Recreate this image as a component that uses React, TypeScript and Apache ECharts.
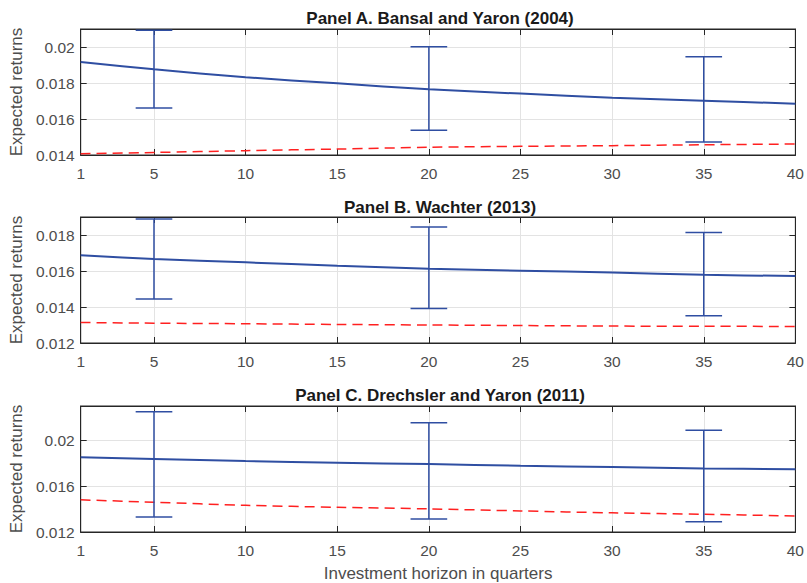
import React, { useEffect, useRef } from "react";
import * as echarts from "echarts";

const horizons = [1, 5, 10, 15, 20, 25, 30, 35, 40];
const xTicks = [1, 5, 10, 15, 20, 25, 30, 35, 40];
const errX = [5, 20, 35];

const titles = [
  "Panel A. Bansal and Yaron (2004)",
  "Panel B. Wachter (2013)",
  "Panel C. Drechsler and Yaron (2011)",
];

// Panel A
const blueA = [0.01917, 0.01876, 0.01832, 0.01798, 0.01765, 0.01741, 0.01718, 0.01702, 0.01685];
const redA = [0.01407, 0.01414, 0.01424, 0.01433, 0.01443, 0.01448, 0.01452, 0.01457, 0.01461];
const lowA = [0.01661, 0.01537, 0.01472];
const highA = [0.02093, 0.02002, 0.01946];
const yTicksA = [0.014, 0.016, 0.018, 0.02];

// Panel B
const blueB = [0.01687, 0.01667, 0.01648, 0.01629, 0.01613, 0.01602, 0.01591, 0.01579, 0.01572];
const redB = [0.01314, 0.0131, 0.01307, 0.01303, 0.013, 0.01297, 0.01294, 0.01293, 0.01292];
const lowB = [0.01444, 0.01392, 0.01352];
const highB = [0.01889, 0.01844, 0.01814];
const yTicksB = [0.012, 0.014, 0.016, 0.018];

// Panel C
const blueC = [0.01852, 0.01837, 0.01819, 0.01805, 0.01793, 0.01779, 0.01767, 0.01755, 0.01747];
const redC = [0.01481, 0.0146, 0.01433, 0.01416, 0.01402, 0.01384, 0.01367, 0.01355, 0.0134];
const lowC = [0.01332, 0.01314, 0.0129];
const highC = [0.02249, 0.02153, 0.02089];
const yTicksC = [0.012, 0.016, 0.02];

const yRanges = [
  [0.014, 0.021, 0.002],
  [0.012, 0.019, 0.002],
  [0.012, 0.023, 0.004],
];

const panels = [
  { blue: blueA, red: redA, low: lowA, high: highA, yTicks: yTicksA },
  { blue: blueB, red: redB, low: lowB, high: highB, yTicks: yTicksB },
  { blue: blueC, red: redC, low: lowC, high: highC, yTicks: yTicksC },
];

const gridTops = [29, 217, 406];
const gridHeight = 126;
const titleTops = [5, 194, 382];

const BLUE = "#2f4ea2";
const RED = "#ff2020";
const AXIS = "#262626";
const LABEL = "#4d4d4d";
const FONT = "Liberation Sans, Arial, Helvetica, sans-serif";

export default function App() {
  const ref = useRef<HTMLDivElement>(null);

  useEffect(() => {
    if (!ref.current) return;
    const chart = echarts.init(ref.current, null, { renderer: "svg" });

    const grid: any[] = [];
    const xAxis: any[] = [];
    const yAxis: any[] = [];
    const series: any[] = [];
    const title: any[] = [];

    panels.forEach((p, i) => {
      grid.push({
        left: 75,
        right: 11,
        top: gridTops[i],
        height: gridHeight,
        show: true,
        borderColor: AXIS,
        borderWidth: 1,
        backgroundColor: "#fff",
      });
      title.push({
        text: titles[i],
        left: 435,
        textAlign: "center",
        top: titleTops[i],
        textStyle: { fontFamily: FONT, fontSize: 17, fontWeight: "bold", color: "#1a1a1a" },
      });
      const [ymin, ymax, yint] = yRanges[i];
      // bottom x axis
      xAxis.push({
        type: "value",
        gridIndex: i,
        min: 1,
        max: 40,
        position: "bottom",
        axisLine: { show: true, lineStyle: { color: AXIS, width: 1 } },
        axisTick: { show: true, inside: true, length: 6, customValues: xTicks, lineStyle: { color: AXIS } },
        axisLabel: {
          customValues: xTicks,
          color: LABEL,
          fontSize: 15.5,
          fontFamily: FONT,
          margin: 10,
        },
        splitLine: { show: true, lineStyle: { color: "#e3e3e3", width: 1 } },
        name: i === 2 ? "Investment horizon in quarters" : "",
        nameLocation: "middle",
        nameGap: 33,
        nameTextStyle: { color: LABEL, fontSize: 17, fontFamily: FONT },
      });
      // top x axis (ticks only)
      xAxis.push({
        type: "value",
        gridIndex: i,
        min: 1,
        max: 40,
        position: "top",
        axisLine: { show: true, lineStyle: { color: AXIS, width: 1 } },
        axisTick: { show: true, inside: true, length: 6, customValues: xTicks, lineStyle: { color: AXIS } },
        axisLabel: { show: false },
        splitLine: { show: false },
      });
      yAxis.push({
        type: "value",
        gridIndex: i,
        min: ymin,
        max: ymax,
        interval: yint,
        position: "left",
        axisLine: { show: true, lineStyle: { color: AXIS, width: 1 } },
        axisTick: { show: true, inside: true, length: 6, customValues: p.yTicks, lineStyle: { color: AXIS } },
        axisLabel: {
          customValues: p.yTicks,
          color: LABEL,
          fontSize: 15.5,
          fontFamily: FONT,
          margin: 6,
          formatter: (v: number) => String(parseFloat(v.toFixed(4))),
        },
        splitLine: { show: true, lineStyle: { color: "#e3e3e3", width: 1 } },
        name: "Expected returns",
        nameLocation: "middle",
        nameGap: 50,
        nameTextStyle: { color: LABEL, fontSize: 17, fontFamily: FONT },
      });
      yAxis.push({
        type: "value",
        gridIndex: i,
        min: ymin,
        max: ymax,
        interval: yint,
        position: "right",
        axisLine: { show: true, lineStyle: { color: AXIS, width: 1 } },
        axisTick: { show: true, inside: true, length: 6, customValues: p.yTicks, lineStyle: { color: AXIS } },
        axisLabel: { show: false },
        splitLine: { show: false },
      });

      const xi = i * 2;
      const yi = i * 2;
      series.push({
        type: "line",
        xAxisIndex: xi,
        yAxisIndex: yi,
        data: horizons.map((h, k) => [h, p.red[k]]),
        smooth: 0.3,
        showSymbol: false,
        lineStyle: { color: RED, width: 1.5, type: [10, 6] },
        z: 3,
      });
      series.push({
        type: "line",
        xAxisIndex: xi,
        yAxisIndex: yi,
        data: horizons.map((h, k) => [h, p.blue[k]]),
        smooth: 0.3,
        showSymbol: false,
        lineStyle: { color: BLUE, width: 2 },
        z: 4,
      });
      series.push({
        type: "custom",
        xAxisIndex: xi,
        yAxisIndex: yi,
        data: errX.map((x, k) => [x, p.low[k], p.high[k]]),
        renderItem: (params: any, api: any) => {
          const x = api.value(0);
          const lo = api.coord([x, api.value(1)]);
          const hi = api.coord([x, api.value(2)]);
          const l1 = api.coord([x - 1, api.value(1)]);
          const r1 = api.coord([x + 1, api.value(1)]);
          const style = { stroke: BLUE, lineWidth: 1.5 };
          return {
            type: "group",
            children: [
              { type: "line", shape: { x1: lo[0], y1: lo[1], x2: hi[0], y2: hi[1] }, style },
              { type: "line", shape: { x1: l1[0], y1: lo[1], x2: r1[0], y2: lo[1] }, style },
              { type: "line", shape: { x1: l1[0], y1: hi[1], x2: r1[0], y2: hi[1] }, style },
            ],
          };
        },
        z: 5,
      });
    });

    chart.setOption({
      animation: false,
      backgroundColor: "#fff",
      title,
      grid,
      xAxis,
      yAxis,
      series,
    });

    return () => chart.dispose();
  }, []);

  return (
    <div
      ref={ref}
      style={{ position: "fixed", left: 0, top: 0, width: 807, height: 583, background: "#fff" }}
    />
  );
}
